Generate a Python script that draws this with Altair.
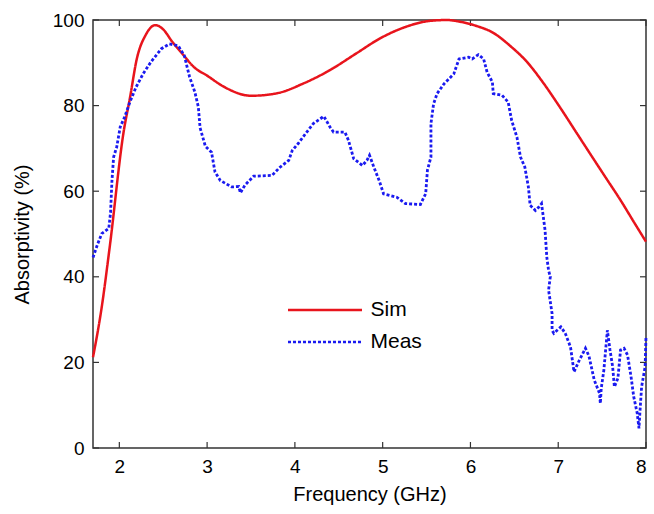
import altair as alt
import pandas as pd

# ---- data ----
series_names = ["Sim", "Meas"]

sim_freq = [1.70, 1.80, 1.89, 2.05, 2.12, 2.20, 2.30, 2.41, 2.50, 2.60, 2.73, 2.85,
            3.00, 3.20, 3.50, 3.80, 4.10, 4.40, 4.70, 4.97, 5.25, 5.54, 5.73, 5.88,
            6.07, 6.26, 6.45, 6.64, 6.83, 7.02, 7.21, 7.40, 7.55, 7.71, 7.85, 8.00]
sim_abs = [21.2, 33.0, 46.9, 74.0, 81.7, 91.0, 96.5, 98.8, 97.8, 95.0, 91.8, 89.0,
           87.0, 84.3, 82.3, 82.9, 85.2, 88.3, 92.2, 95.7, 98.3, 99.8, 100.0, 99.6,
           98.6, 97.0, 94.0, 90.3, 85.3, 79.6, 73.6, 67.6, 62.9, 57.9, 53.2, 48.2]

meas_freq = [1.70, 1.75, 1.80, 1.88, 1.90, 1.916, 1.935, 1.97, 2.01, 2.06, 2.12, 2.19,
             2.27, 2.36, 2.48, 2.57, 2.67, 2.74, 2.80, 2.86, 2.90, 2.92, 2.98, 3.05,
             3.09, 3.15, 3.28, 3.36, 3.38, 3.43, 3.53, 3.74, 3.83, 3.93, 3.97, 4.04,
             4.12, 4.21, 4.33, 4.40, 4.44, 4.57, 4.61, 4.67, 4.77, 4.82, 4.85, 4.90,
             4.96, 5.01, 5.16, 5.26, 5.43, 5.49, 5.51, 5.55, 5.55, 5.58, 5.62, 5.70,
             5.81, 5.87, 5.98, 6.02, 6.09, 6.15, 6.19, 6.25, 6.26, 6.36, 6.43, 6.47,
             6.53, 6.57, 6.62, 6.66, 6.68, 6.74, 6.78, 6.81, 6.85, 6.87, 6.89, 6.91,
             6.89, 6.93, 6.93, 6.95, 7.03, 7.08, 7.14, 7.18, 7.24, 7.31, 7.35, 7.41,
             7.47, 7.48, 7.49, 7.52, 7.54, 7.56, 7.59, 7.62, 7.64, 7.68, 7.71, 7.75,
             7.79, 7.83, 7.86, 7.90, 7.92, 7.93, 7.95, 7.99, 8.00]
meas_abs = [44.5, 47.5, 50.1, 51.3, 55.0, 62.5, 68.0, 70.3, 75.0, 77.3, 80.8, 84.3,
            87.4, 90.2, 93.3, 94.4, 94.0, 91.7, 86.7, 83.2, 79.7, 74.8, 70.5, 69.1,
            64.5, 62.5, 61.0, 61.1, 59.6, 61.4, 63.5, 63.7, 65.6, 67.2, 69.5, 71.2,
            73.4, 75.8, 77.5, 75.0, 73.8, 73.8, 71.9, 67.6, 66.0, 67.2, 68.4, 65.6,
            62.5, 59.4, 58.6, 57.1, 56.9, 59.4, 64.9, 68.0, 75.8, 80.4, 82.8, 85.1,
            87.4, 90.9, 91.3, 90.9, 91.9, 90.9, 87.8, 85.5, 82.8, 82.4, 80.8, 76.5,
            72.6, 68.0, 65.6, 61.0, 56.7, 55.5, 56.3, 57.1, 50.9, 44.6, 41.5, 40.0,
            36.9, 31.4, 27.5, 26.8, 28.3, 26.8, 23.6, 17.8, 20.5, 23.3, 21.5, 15.9,
            12.8, 10.4, 13.9, 18.2, 22.9, 27.5, 22.9, 19.0, 14.3, 16.3, 22.9, 23.3,
            21.7, 16.6, 12.0, 8.1, 4.6, 8.1, 14.3, 19.0, 26.0]

x_ticks = [2, 3, 4, 5, 6, 7, 8]
y_ticks = [0, 20, 40, 60, 80, 100]

# ---- layout ----
W, H = 553, 428
FONT = "Liberation Sans"
TICK = 6

sim_df = pd.DataFrame({"freq": sim_freq, "absorb": sim_abs, "series": "Sim",
                       "idx": list(range(len(sim_freq)))})
meas_df = pd.DataFrame({"freq": meas_freq, "absorb": meas_abs, "series": "Meas",
                        "idx": list(range(len(meas_freq)))})
xt_df = pd.DataFrame({"t": x_ticks})
yt_df = pd.DataFrame({"t": y_ticks})

xscale = alt.Scale(domain=[1.7, 8], nice=False, zero=False)
yscale = alt.Scale(domain=[0, 100], nice=False, zero=False)

xaxis = alt.Axis(values=x_ticks, title="Frequency (GHz)", grid=False, domain=False,
                 ticks=False, labelFontSize=19, titleFontSize=20, labelPadding=9,
                 titlePadding=8, labelFont=FONT, titleFont=FONT, labelColor="black",
                 titleColor="black", titleFontWeight="normal", format="d")
yaxis = alt.Axis(values=y_ticks, title="Absorptivity (%)", grid=False, domain=False,
                 ticks=False, labelFontSize=19, titleFontSize=20, labelPadding=9,
                 titlePadding=20, labelFont=FONT, titleFont=FONT, labelColor="black",
                 titleColor="black", titleFontWeight="normal", format="d")

# legend line: custom path, 74 px long (scale = sqrt(576)/2 = 12)
legend = alt.Legend(title=None, orient="none", legendX=195, legendY=276.5,
                    symbolType="M-3.0833,0H3.0833", symbolSize=576,
                    symbolStrokeWidth=2.5, symbolOffset=23.5,
                    labelFontSize=21, labelFont=FONT, labelColor="black",
                    labelOffset=32, rowPadding=8)

color = alt.Color("series:N", scale=alt.Scale(domain=series_names,
                                              range=["#e8141c", "#1a1af0"]),
                  legend=legend)
dash = alt.StrokeDash("series:N", scale=alt.Scale(domain=series_names,
                                                  range=[[1, 0], [3, 2]]),
                      legend=legend)

X = alt.X("freq:Q", scale=xscale, axis=xaxis)
Y = alt.Y("absorb:Q", scale=yscale, axis=yaxis)

sim_line = alt.Chart(sim_df).mark_line(strokeWidth=2.5, interpolate="monotone").encode(
    x=X, y=Y, color=color, strokeDash=dash, order="idx:Q")
meas_line = alt.Chart(meas_df).mark_line(strokeWidth=2.8).encode(
    x=X, y=Y, color=color, strokeDash=dash, order="idx:Q")

XT = alt.X("t:Q", scale=xscale, axis=xaxis)
YT = alt.Y("t:Q", scale=yscale, axis=yaxis)
tick_style = dict(color="#333333", strokeWidth=1.2)
bottom_ticks = alt.Chart(xt_df).mark_rule(**tick_style).encode(
    x=XT, y=alt.value(H), y2=alt.value(H - TICK))
top_ticks = alt.Chart(xt_df).mark_rule(**tick_style).encode(
    x=XT, y=alt.value(0), y2=alt.value(TICK))
left_ticks = alt.Chart(yt_df).mark_rule(**tick_style).encode(
    y=YT, x=alt.value(0), x2=alt.value(TICK))
right_ticks = alt.Chart(yt_df).mark_rule(**tick_style).encode(
    y=YT, x=alt.value(W), x2=alt.value(W - TICK))

chart = alt.layer(bottom_ticks, top_ticks, left_ticks, right_ticks, sim_line, meas_line).properties(
    width=W, height=H,
    padding={"left": 93, "top": 20, "right": 8, "bottom": 66},
    autosize=alt.AutoSizeParams(type="none"),
    background="white",
).configure_view(stroke="#333333", strokeWidth=1.5)

chart.save("out.html", embed_options={"renderer": "svg", "actions": False})
